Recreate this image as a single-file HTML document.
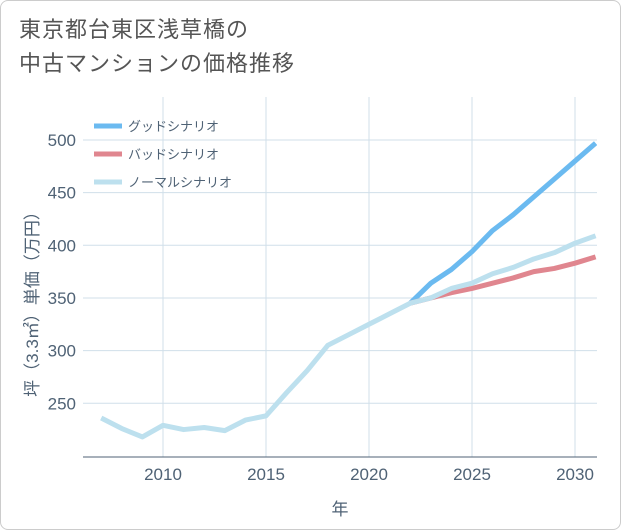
<!DOCTYPE html>
<html><head><meta charset="utf-8"><style>
body{margin:0;background:#fff;font-family:"Liberation Sans","Noto Sans CJK JP",sans-serif}
#card{position:absolute;left:0;top:0;width:619px;height:528px;border:1px solid #ccc;border-radius:8px;background:#fff}
#title{position:absolute;left:18px;top:12px;font-size:22px;line-height:34px;color:#555;letter-spacing:1px}
</style></head><body>
<div id="card">
<div id="title">東京都台東区浅草橋の<br>中古マンションの価格推移</div>
<svg id="chart" width="621" height="530" style="position:absolute;left:-1px;top:-1px"></svg>
</div>
<script>
const years=[2007,2008,2009,2010,2011,2012,2013,2014,2015,2016,2017,2018,2019,2020,2021,2022,2023,2024,2025,2026,2027,2028,2029,2030,2031];
const normal=[236,226,218,229,225,227,224,234,238,260,281,305,315,325,335,345,350,359,364,373,379,387,393,402,409];
const goodYears=[2022,2023,2024,2025,2026,2027,2028,2029,2030,2031];
const good=[345,364,377,394,414,429,446,463,480,497];
const bad=[345,350,355,359,364,369,375,378,383,389];
const xTicks=[2010,2015,2020,2025,2030];
const yTicks=[250,300,350,400,450,500];
const X0=83,X1=597,Y0=97,Y1=457;
const x=v=>163+(v-2010)*20.6;
const y=v=>140+(500-v)*1.053;
const svg=document.getElementById('chart');
const NS='http://www.w3.org/2000/svg';
const TXT='#4f6275';
function mk(t,a){const e=document.createElementNS(NS,t);for(const k in a)e.setAttribute(k,a[k]);svg.appendChild(e);return e;}
yTicks.forEach(v=>{const l=mk('line',{x1:X0,x2:X1,y1:y(v),y2:y(v),stroke:'#d0dfea','stroke-width':1});


const t=mk('text',{x:76,y:y(v)+6,'text-anchor':'end','font-size':17,fill:TXT});t.textContent=v;

});
xTicks.forEach(v=>{const l=mk('line',{x1:x(v),x2:x(v),y1:Y0,y2:Y1,stroke:'#d0dfea','stroke-width':1});


const t=mk('text',{x:x(v),y:480,'text-anchor':'middle','font-size':17,fill:TXT});t.textContent=v;

});
const ax=mk('line',{x1:X0,x2:X1,y1:Y1,y2:Y1,stroke:'#4f6275','stroke-width':1});


const xt=mk('text',{x:340,y:515,'text-anchor':'middle','font-size':17,fill:TXT});xt.textContent='年';


const yt=mk('text',{x:0,y:0,'text-anchor':'middle','font-size':17,fill:TXT,transform:'translate(38,300) rotate(-90)'});yt.textContent='坪（3.3㎡）単価（万円）';


function line(xs,vs,color,name){const p=mk('polyline',{points:xs.map((v,i)=>x(v)+','+y(vs[i])).join(' '),fill:'none',stroke:color,'stroke-width':5,'stroke-linejoin':'round','clip-path':'url(#clip)'});

}
const cp=mk('clipPath',{id:'clip'});const r=document.createElementNS(NS,'rect');r.setAttribute('x',X0);r.setAttribute('y',Y0);r.setAttribute('width',X1-X0);r.setAttribute('height',Y1-Y0);cp.appendChild(r);
line(goodYears,good,'#6bbaf0','good-scenario-line');
line(goodYears,bad,'#e0868f','bad-scenario-line');
line(years,normal,'#bde0ee','normal-scenario-line');
const leg=[['グッドシナリオ','#6bbaf0'],['バッドシナリオ','#e0868f'],['ノーマルシナリオ','#bde0ee']];
leg.forEach((d,i)=>{const yy=126+i*28;
const l=mk('line',{x1:94,x2:122,y1:yy,y2:yy,stroke:d[1],'stroke-width':5});


const t=mk('text',{x:128,y:yy+5,'font-size':13,fill:TXT});t.textContent=d[0];

});
</script>
</body></html>
